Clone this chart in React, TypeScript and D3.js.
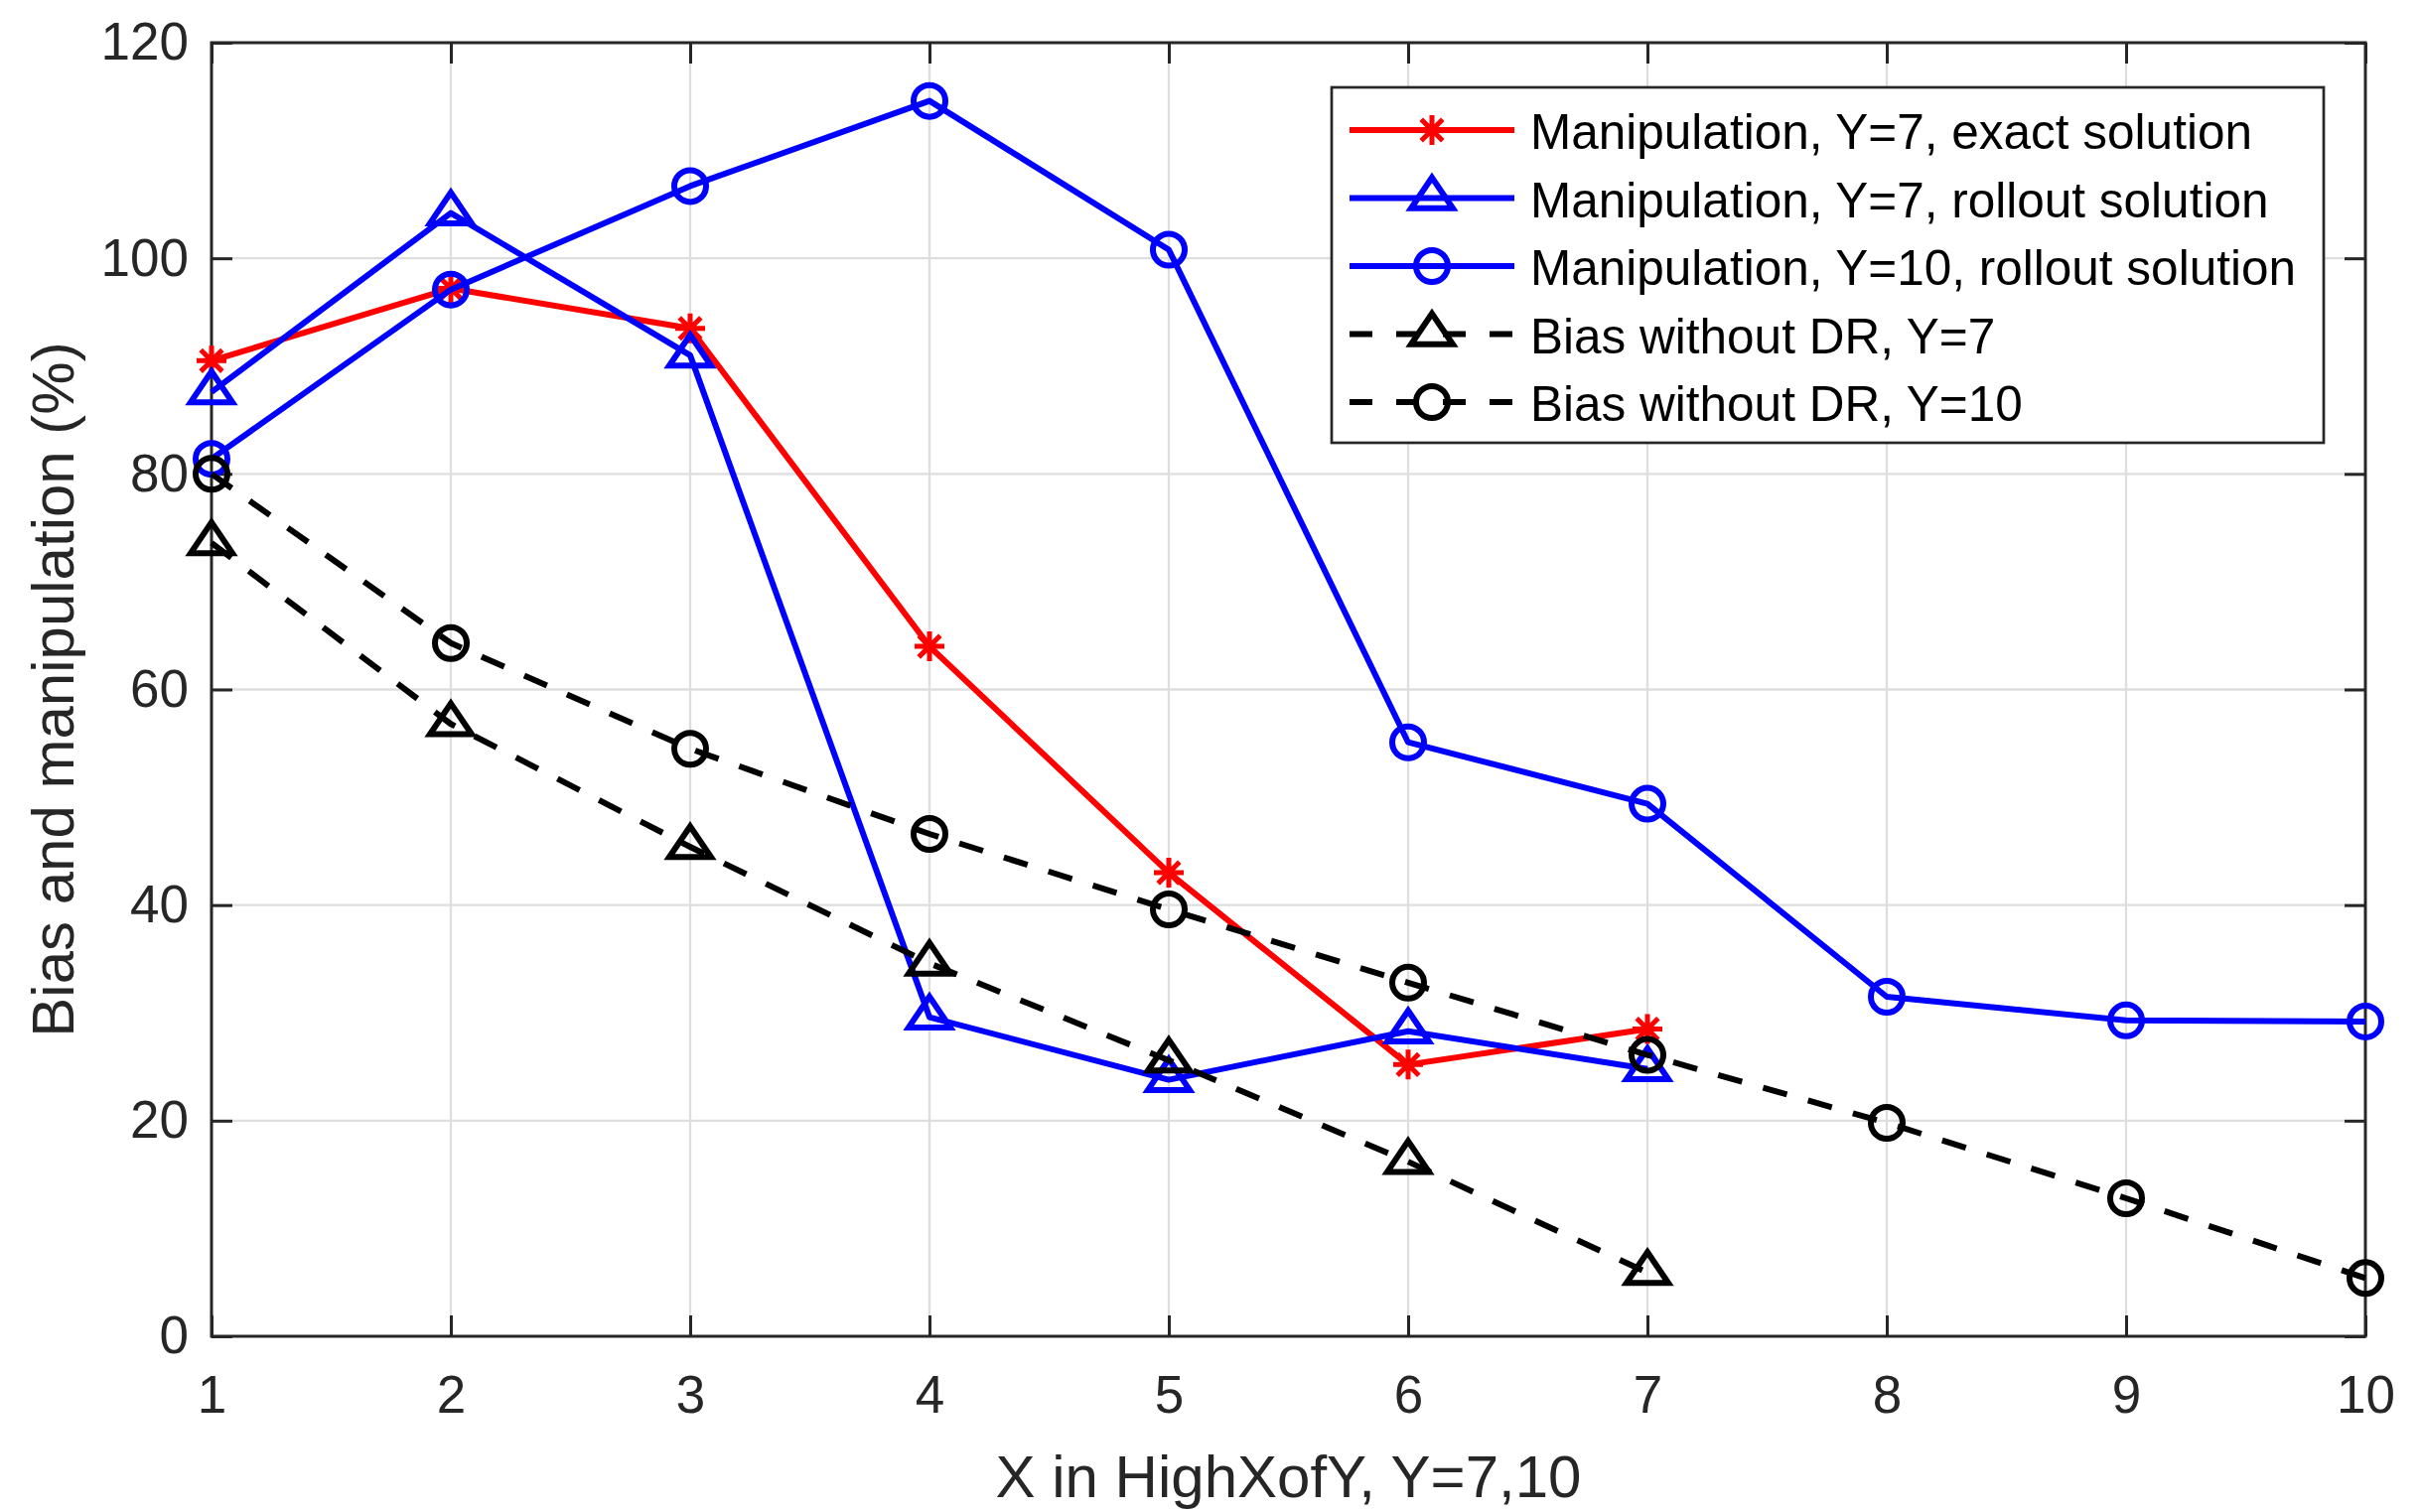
import * as d3 from "d3";
import { useEffect, useRef } from "react";

// x positions (X in HighXofY)
const xY7 = [1, 2, 3, 4, 5, 6, 7];
const xY10 = [1, 2, 3, 4, 5, 6, 7, 8, 9, 10];

// series values (%)
const exactY7 = [90.5, 97.2, 93.5, 64.0, 43.0, 25.2, 28.5];
const rolloutY7 = [87.6, 104.2, 91.0, 29.6, 23.8, 28.3, 24.8];
const rolloutY10 = [81.4, 97.1, 106.7, 114.6, 100.8, 55.1, 49.4, 31.5, 29.3, 29.2];
const biasY7 = [73.6, 56.8, 45.4, 34.6, 25.6, 16.2, 5.9];
const biasY10 = [80.0, 64.3, 54.5, 46.6, 39.6, 32.8, 26.1, 19.8, 12.8, 5.4];

const seriesNames = [
  "Manipulation, Y=7, exact solution",
  "Manipulation, Y=7, rollout solution",
  "Manipulation, Y=10, rollout solution",
  "Bias without DR, Y=7",
  "Bias without DR, Y=10",
];

const xTicks = [1, 2, 3, 4, 5, 6, 7, 8, 9, 10];
const yTicks = [0, 20, 40, 60, 80, 100, 120];

type Marker = "star" | "triangle" | "circle";

export default function App() {
  const svgRef = useRef<SVGSVGElement>(null);

  useEffect(() => {
    if (!svgRef.current) return;
    const svg = d3.select(svgRef.current);
    svg.selectAll("*").remove();

    const font = "'Liberation Sans', Arial, Helvetica, sans-serif";
    const axisColor = "#262626";
    const left = 213,
      right = 2382,
      top = 43,
      bottom = 1346;

    const x = d3.scaleLinear().domain([1, 10]).range([left, right]);
    const y = d3.scaleLinear().domain([0, 120]).range([bottom, top]);

    // grid
    const grid = svg.append("g");
    grid
      .selectAll("line.gx")
      .data(xTicks.slice(1, -1))
      .enter()
      .append("line")
      .attr("x1", (d) => x(d))
      .attr("x2", (d) => x(d))
      .attr("y1", top)
      .attr("y2", bottom)
      .attr("stroke", "#dedede")
      .attr("stroke-width", 2.3);
    grid
      .selectAll("line.gy")
      .data(yTicks.slice(1, -1))
      .enter()
      .append("line")
      .attr("x1", left)
      .attr("x2", right)
      .attr("y1", (d) => y(d))
      .attr("y2", (d) => y(d))
      .attr("stroke", "#dedede")
      .attr("stroke-width", 2.3);

    // axes (ticks pointing inward, like MATLAB)
    const styleAxis = (g: d3.Selection<SVGGElement, unknown, null, undefined>) => {
      g.select(".domain").remove();
      g.selectAll(".tick line").attr("stroke", axisColor).attr("stroke-width", 3);
      g.selectAll(".tick text")
        .attr("fill", axisColor)
        .style("font-family", font)
        .style("font-size", "53px");
    };

    svg
      .append("g")
      .attr("transform", `translate(0,${bottom})`)
      .call(d3.axisBottom(x).tickValues(xTicks).tickSizeInner(-21).tickSizeOuter(0).tickPadding(39))
      .call(styleAxis);
    svg
      .append("g")
      .attr("transform", `translate(0,${top})`)
      .call(d3.axisTop(x).tickValues(xTicks).tickSizeInner(-21).tickSizeOuter(0).tickFormat(() => ""))
      .call(styleAxis);
    svg
      .append("g")
      .attr("transform", `translate(${left},0)`)
      .call(d3.axisLeft(y).tickValues(yTicks).tickSizeInner(-21).tickSizeOuter(0).tickPadding(23))
      .call(styleAxis);
    svg
      .append("g")
      .attr("transform", `translate(${right},0)`)
      .call(d3.axisRight(y).tickValues(yTicks).tickSizeInner(-21).tickSizeOuter(0).tickFormat(() => ""))
      .call(styleAxis);

    svg
      .append("rect")
      .attr("x", left)
      .attr("y", top)
      .attr("width", right - left)
      .attr("height", bottom - top)
      .attr("fill", "none")
      .attr("stroke", axisColor)
      .attr("stroke-width", 3);

    // axis labels
    svg
      .append("text")
      .attr("x", (left + right) / 2)
      .attr("y", 1508)
      .attr("text-anchor", "middle")
      .attr("fill", axisColor)
      .style("font-family", font)
      .style("font-size", "60px")
      .text("X in HighXofY, Y=7,10");
    svg
      .append("text")
      .attr("transform", `translate(74,${(top + bottom) / 2}) rotate(-90)`)
      .attr("text-anchor", "middle")
      .attr("fill", axisColor)
      .style("font-family", font)
      .style("font-size", "60px")
      .text("Bias and manipulation (%)");

    // marker drawing
    const drawMarker = (
      g: d3.Selection<SVGGElement, unknown, null, undefined>,
      kind: Marker,
      cx: number,
      cy: number,
      color: string
    ) => {
      if (kind === "circle") {
        g.append("circle")
          .attr("cx", cx)
          .attr("cy", cy)
          .attr("r", 16)
          .attr("fill", "none")
          .attr("stroke", color)
          .attr("stroke-width", 6);
      } else if (kind === "triangle") {
        const h = 31,
          w = 21;
        g.append("path")
          .attr(
            "d",
            `M${cx},${cy - (2 * h) / 3}L${cx + w},${cy + h / 3}L${cx - w},${cy + h / 3}Z`
          )
          .attr("fill", "none")
          .attr("stroke", color)
          .attr("stroke-width", 6)
          .attr("stroke-linejoin", "miter");
      } else {
        const r = 15,
          k = r * 0.72;
        g.append("path")
          .attr(
            "d",
            `M${cx},${cy - r}V${cy + r}M${cx - r},${cy}H${cx + r}` +
              `M${cx - k},${cy - k}L${cx + k},${cy + k}M${cx - k},${cy + k}L${cx + k},${cy - k}`
          )
          .attr("stroke", color)
          .attr("stroke-width", 5);
      }
    };

    const series: {
      xs: number[];
      ys: number[];
      color: string;
      dash: string | null;
      marker: Marker;
    }[] = [
      { xs: xY7, ys: exactY7, color: "#ff0000", dash: null, marker: "star" },
      { xs: xY7, ys: rolloutY7, color: "#0000ff", dash: null, marker: "triangle" },
      { xs: xY10, ys: rolloutY10, color: "#0000ff", dash: null, marker: "circle" },
      { xs: xY7, ys: biasY7, color: "#000000", dash: "25 22", marker: "triangle" },
      { xs: xY10, ys: biasY10, color: "#000000", dash: "25 22", marker: "circle" },
    ];

    const line = d3
      .line<[number, number]>()
      .x((d) => x(d[0]))
      .y((d) => y(d[1]));

    const plot = svg.append("g");
    series.forEach((s) => {
      const g = plot.append("g");
      const pts = s.xs.map((v, i) => [v, s.ys[i]] as [number, number]);
      g.append("path")
        .attr("d", line(pts))
        .attr("fill", "none")
        .attr("stroke", s.color)
        .attr("stroke-width", 6)
        .attr("stroke-linejoin", "round")
        .attr("stroke-dasharray", s.dash);
      pts.forEach((p) => drawMarker(g, s.marker, x(p[0]), y(p[1]), s.color));
    });

    // legend
    const lg = svg.append("g");
    lg.append("rect")
      .attr("x", 1341)
      .attr("y", 88)
      .attr("width", 2340 - 1341)
      .attr("height", 446 - 88)
      .attr("fill", "#ffffff")
      .attr("stroke", axisColor)
      .attr("stroke-width", 2.7);
    const rowY = d3.scaleLinear().domain([0, 4]).range([131, 405]);
    series.forEach((s, i) => {
      const cy = rowY(i);
      const g = lg.append("g");
      g.append("line")
        .attr("x1", 1359)
        .attr("x2", 1525)
        .attr("y1", cy)
        .attr("y2", cy)
        .attr("stroke", s.color)
        .attr("stroke-width", 6)
        .attr("stroke-dasharray", s.dash ? "23 24" : null);
      drawMarker(g, s.marker, 1442, cy, s.color);
      g.append("text")
        .attr("x", 1541)
        .attr("y", cy + 19)
        .attr("fill", "#000000")
        .style("font-family", font)
        .style("font-size", "49.5px")
        .text(seriesNames[i]);
    });
  }, []);

  return (
    <div style={{ position: "absolute", left: 0, top: 0, background: "#ffffff" }}>
      <svg ref={svgRef} width={2439} height={1523} style={{ display: "block" }} />
    </div>
  );
}
